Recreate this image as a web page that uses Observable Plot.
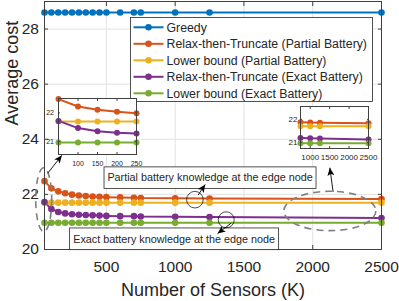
<!DOCTYPE html>
<html><head><meta charset="utf-8">
<script src="https://cdn.jsdelivr.net/npm/d3@7"></script>
<script src="https://cdn.jsdelivr.net/npm/@observablehq/plot@0.6"></script>
<style>
body{margin:0;background:#fff;}
#wrap{position:relative;width:399px;height:301px;overflow:hidden;font-family:"Liberation Sans",Arial,Helvetica,sans-serif;}
#wrap svg{position:absolute;}
</style></head><body><div id="wrap"></div>
<script>
// ---- data ----
const sensors = [50,100,150,200,250,300,350,400,450,500,600,700,750,1000,1250,2500];
const greedy     = [28.6,28.6,28.6,28.6,28.6,28.6,28.6,28.6,28.6,28.6,28.6,28.6,28.6,28.6,28.6,28.6];
const rttPartial = [22.48,22.22,22.11,22.04,21.99,21.96,21.94,21.92,21.91,21.90,21.89,21.88,21.87,21.86,21.85,21.83];
const lbPartial  = [21.70,21.70,21.70,21.70,21.70,21.70,21.70,21.70,21.70,21.70,21.70,21.70,21.70,21.70,21.70,21.70];
const rttExact   = [21.72,21.47,21.36,21.31,21.28,21.26,21.25,21.24,21.23,21.22,21.21,21.21,21.20,21.19,21.18,21.14];
const lbExact    = [20.97,20.97,20.97,20.97,20.97,20.97,20.97,20.97,20.97,20.97,20.97,20.97,20.97,20.97,20.97,20.97];
const seriesNames = ["Greedy","Relax-then-Truncate (Partial Battery)","Lower bound (Partial Battery)","Relax-then-Truncate (Exact Battery)","Lower bound (Exact Battery)"];
const seriesValues = [greedy, rttPartial, lbPartial, rttExact, lbExact];
const colors = ["#0072BD","#D95319","#EDB120","#7E2F8E","#77AC30"];
const xTicks = [500,1000,1500,2000,2500];
const yTicks = [20,22,24,26,28];
const inset1XTicks = [100,150,200,250];
const inset2XTicks = [1000,1500,2000,2500];
const insetYTicks = [21,22];
const xLabel = "Number of Sensors (K)";
const yLabel = "Average cost";
const noteTexts = ["Partial battery knowledge at the edge node","Exact battery knowledge at the edge node"];

const FONT = '"Liberation Sans", Arial, Helvetica, sans-serif';
const AX = "#404040";
const fmt = d3.format("d");
const data = seriesNames.flatMap((s, i) => sensors.map((k, j) => ({k, v: seriesValues[i][j], s})));

const wrap = document.getElementById("wrap");

// ---- main chart ----
const main = Plot.plot({
  width: 399, height: 301,
  marginLeft: 44, marginRight: 18, marginTop: 1, marginBottom: 52,
  style: {fontFamily: FONT, fontSize: "15.5px", color: "#262626", background: "transparent", overflow: "visible"},
  x: {domain: [50, 2500]},
  y: {domain: [20, 29]},
  color: {domain: seriesNames, range: colors},
  marks: [
    Plot.gridX(xTicks, {stroke: "#e2e2e2", strokeOpacity: 1}),
    Plot.gridY(yTicks, {stroke: "#e2e2e2", strokeOpacity: 1}),
    Plot.line(data, {x: "k", y: "v", z: "s", stroke: "s", strokeWidth: 2}),
    Plot.dot(data, {x: "k", y: "v", fill: "s", r: 3.3}),
    Plot.axisX(xTicks, {anchor: "bottom", tickSize: -4, tickPadding: 15.5, tickFormat: fmt, label: null, stroke: AX}),
    Plot.axisX(xTicks, {anchor: "top", tickSize: -4, tickFormat: () => "", label: null, stroke: AX}),
    Plot.axisY(yTicks, {anchor: "left", tickSize: -4, tickPadding: 9.5, label: null, stroke: AX}),
    Plot.axisY(yTicks, {anchor: "right", tickSize: -4, tickFormat: () => "", label: null, stroke: AX}),
    Plot.frame({stroke: AX}),
    Plot.text([xLabel], {frameAnchor: "bottom", dy: 46, fontSize: 18, fill: "#262626"}),
    Plot.text([yLabel], {frameAnchor: "left", rotate: -90, dx: -32, fontSize: 18, fill: "#262626"})
  ]
});
main.style.left = "0px"; main.style.top = "0px";
wrap.appendChild(main);

const sx = main.scale("x"), sy = main.scale("y");
const svg = d3.select(main);
const defs = svg.append("defs");
defs.append("marker").attr("id", "ah").attr("markerUnits", "userSpaceOnUse")
  .attr("markerWidth", 9).attr("markerHeight", 7).attr("refX", 8).attr("refY", 3.5).attr("orient", "auto")
  .append("path").attr("d", "M0,0L8,3.5L0,7L2,3.5Z").attr("fill", "#000");

// legend
const lg = svg.append("g").attr("font-family", FONT).attr("font-size", 12.3).attr("text-anchor", "start");
lg.append("rect").attr("x", 130.5).attr("y", 17.5).attr("width", 242).attr("height", 84)
  .attr("fill", "#fff").attr("stroke", "#262626").attr("stroke-width", 0.8);
seriesNames.forEach((s, i) => {
  const y = 27.3 + i * 16.5;
  lg.append("line").attr("x1", 133.5).attr("x2", 163.5).attr("y1", y).attr("y2", y).attr("stroke", colors[i]).attr("stroke-width", 2);
  lg.append("circle").attr("cx", 148.5).attr("cy", y).attr("r", 3.3).attr("fill", colors[i]);
  lg.append("text").attr("x", 166.5).attr("y", y).attr("dy", "0.35em").attr("fill", "#262626").text(s);
});

// annotations (anchored in data units)
const ann = svg.append("g").attr("font-family", FONT);
function note(text, k, v, w, h) {
  const cx = sx.apply(k), cy = sy.apply(v);
  ann.append("rect").attr("x", cx - w / 2).attr("y", cy - h / 2).attr("width", w).attr("height", h)
    .attr("fill", "#fff").attr("stroke", "#262626").attr("stroke-width", 0.8);
  ann.append("text").attr("x", cx).attr("y", cy).attr("dy", "0.35em").attr("text-anchor", "middle")
    .attr("font-size", 10.8).attr("fill", "#262626").text(text);
}
note(noteTexts[0], 1257, 22.59, 212, 21.5);
note(noteTexts[1], 996, 20.37, 209, 21.7);
function arrow(k1, v1, k2, v2) {
  ann.append("line").attr("x1", sx.apply(k1)).attr("y1", sy.apply(v1)).attr("x2", sx.apply(k2)).attr("y2", sy.apply(v2))
    .attr("stroke", "#000").attr("stroke-width", 0.9).attr("marker-end", "url(#ah)");
}
function ring(k, v, r) {
  ann.append("circle").attr("cx", sx.apply(k)).attr("cy", sy.apply(v)).attr("r", r).attr("fill", "none").attr("stroke", "#000").attr("stroke-width", 0.7);
}
function dashEllipse(k, v, rx, ry) {
  ann.append("ellipse").attr("cx", sx.apply(k)).attr("cy", sy.apply(v)).attr("rx", rx).attr("ry", ry)
    .attr("fill", "none").attr("stroke", "#808080").attr("stroke-width", 1.6).attr("stroke-dasharray", "7,5");
}
ring(1147, 21.79, 8.3);
arrow(1171, 21.96, 1222, 22.34);
ring(1375, 21.06, 8);
arrow(1411, 20.94, 1312, 20.56);
dashEllipse(48, 21.79, 8, 32);
arrow(77, 22.75, 180, 23.40);
dashEllipse(2128, 21.38, 46, 19.7);
arrow(2152, 22.07, 2128, 22.95);

// ---- insets ----
function inset({left, top, width, height, xDomain, yDomain, xt, rows, fs, xPad, yPad}) {
  const p = Plot.plot({
    width, height, marginLeft: 18, marginRight: 4, marginTop: 4, marginBottom: 16,
    style: {fontFamily: FONT, fontSize: fs + "px", color: "#262626", background: "transparent", overflow: "visible"},
    x: {domain: xDomain}, y: {domain: yDomain},
    color: {domain: seriesNames, range: colors},
    marks: [
      Plot.frame({fill: "#fff", stroke: null}),
      Plot.line(rows, {x: "k", y: "v", z: "s", stroke: "s", strokeWidth: 2}),
      Plot.dot(rows, {x: "k", y: "v", fill: "s", r: 3}),
      Plot.axisX(xt, {anchor: "bottom", tickSize: -2, tickPadding: xPad, tickFormat: fmt, label: null, stroke: AX}),
      Plot.axisX(xt, {anchor: "top", tickSize: -2, tickFormat: () => "", label: null, stroke: AX}),
      Plot.axisY(insetYTicks, {anchor: "left", tickSize: -2, tickPadding: yPad, label: null, stroke: AX}),
      Plot.axisY(insetYTicks, {anchor: "right", tickSize: -2, tickFormat: () => "", label: null, stroke: AX}),
      Plot.frame({stroke: AX})
    ]
  });
  p.style.left = left + "px"; p.style.top = top + "px";
  wrap.appendChild(p);
}
const noGreedy = data.filter(d => d.s !== seriesNames[0]);
inset({left: 40, top: 94, width: 100, height: 76, xDomain: [50, 250], yDomain: [20.55, 22.5], xt: inset1XTicks,
  rows: noGreedy.filter(d => d.k <= 250), fs: 7, xPad: 8.5, yPad: 6.5});
inset({left: 282, top: 102, width: 90, height: 62, xDomain: [750, 2500], yDomain: [20.75, 22.55], xt: inset2XTicks,
  rows: noGreedy.filter(d => d.k >= 750), fs: 8, xPad: 8, yPad: 5});
</script></body></html>
